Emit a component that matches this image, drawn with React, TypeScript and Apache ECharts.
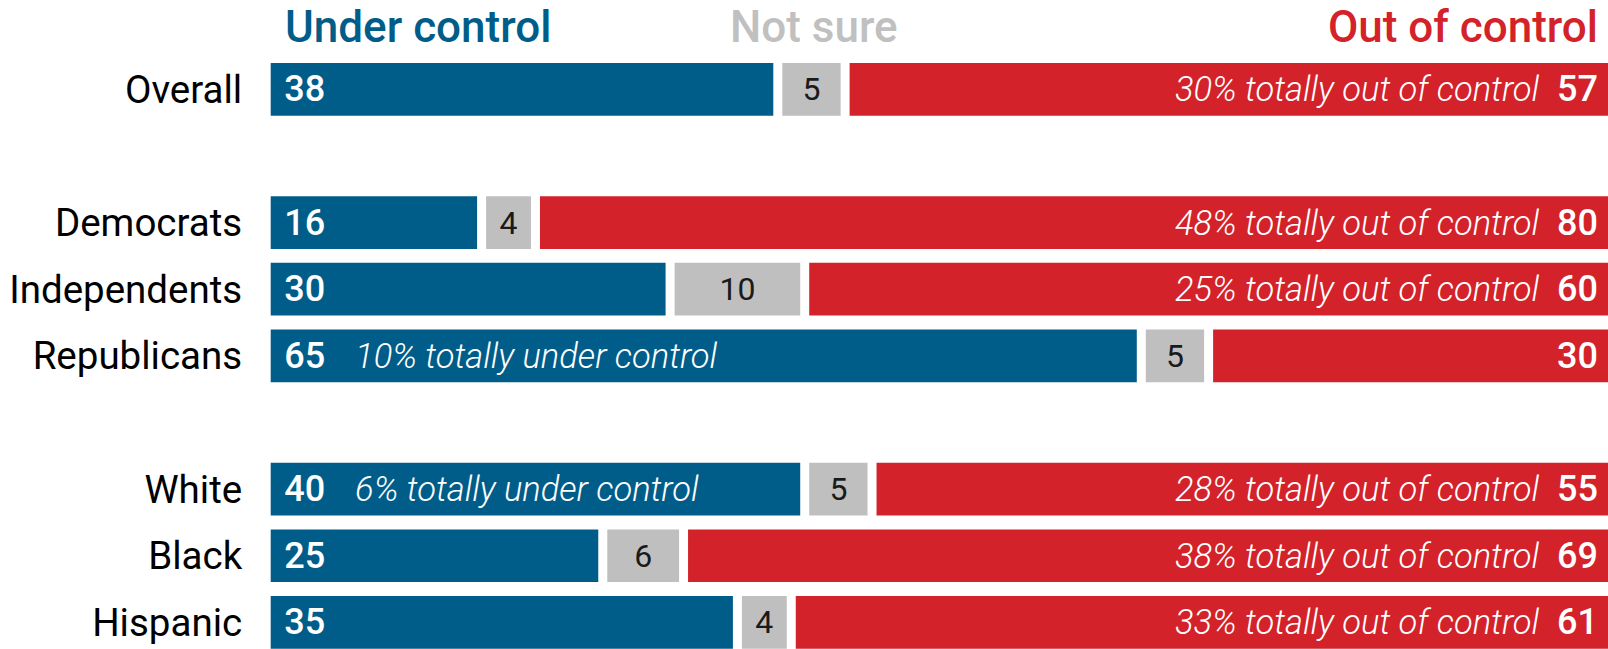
import React, { useEffect, useRef } from "react";
import * as echarts from "echarts";

const groups = ["Overall", "", "Democrats", "Independents", "Republicans", " ", "White", "Black", "Hispanic"];
const underControl = [38, null, 16, 30, 65, null, 40, 25, 35];
const notSure = [5, null, 4, 10, 5, null, 5, 6, 4];
const outOfControl = [57, null, 80, 60, 30, null, 55, 69, 61];
const totallyUnder = [null, null, null, null, 10, null, 6, null, null];
const totallyOut = [30, null, 48, 25, null, null, 28, 38, 33];
const headings = ["Under control", "Not sure", "Out of control"];

const BLUE = "#005d89";
const GRAY = "#bfbfbf";
const RED = "#d3222a";
const FONT = "Roboto, 'Liberation Sans', sans-serif";

export default function App() {
  const ref = useRef<HTMLDivElement>(null);
  useEffect(() => {
    if (!ref.current) return;
    const chart = echarts.init(ref.current, null, { renderer: "svg" });
    const barW = 61.7;
    const common = {
      type: "bar",
      stack: "all",
      barWidth: barW,
    };
    const border = { borderColor: "#fff", borderWidth: 4.5 };
    chart.setOption({
      animation: false,
      backgroundColor: "#ffffff",
      textStyle: { fontFamily: FONT },
      grid: { left: 266.2, top: 56, width: 1346.3, height: 599.7, outerBoundsMode: "none" },
      xAxis: { type: "value", min: 0, max: 100, show: false },
      yAxis: {
        type: "category",
        data: groups,
        inverse: true,
        axisLine: { show: false },
        axisTick: { show: false },
        splitLine: { show: false },
        axisLabel: { fontSize: 38.5, color: "#000", margin: 24, fontFamily: FONT, fontWeight: "normal" },
      },
      graphic: [
        {
          type: "text",
          left: 285,
          top: 5,
          style: { text: headings[0], fill: BLUE, font: `500 44px ${FONT}` },
        },
        {
          type: "text",
          left: 730,
          top: 5,
          style: { text: headings[1], fill: "#c0c0c0", font: `500 44px ${FONT}` },
        },
        {
          type: "text",
          right: 10,
          top: 5,
          style: { text: headings[2], fill: RED, font: `500 44px ${FONT}` },
        },
      ],
      series: [
        {
          ...common,
          name: "Under control",
          data: underControl,
          itemStyle: { color: BLUE, ...border },
          label: {
            show: true,
            position: "insideLeft",
            distance: 18,
            formatter: (p: any) => {
              const v = underControl[p.dataIndex];
              const n = totallyUnder[p.dataIndex];
              return n != null ? `{v|${v}}{n|${n}% totally under control}` : `{v|${v}}`;
            },
            rich: {
              v: { fontSize: 36, fontWeight: 500, color: "#fff", fontFamily: FONT },
              n: { fontSize: 34.5, fontStyle: "italic", fontWeight: 300, color: "#fff", padding: [0, 0, 0, 30], fontFamily: FONT },
            },
          },
        },
        {
          ...common,
          name: "Not sure",
          data: notSure,
          itemStyle: { color: GRAY, ...border },
          label: {
            show: true,
            position: "inside",
            fontSize: 32,
            color: "#1a1a1a",
            fontFamily: FONT,
          },
        },
        {
          ...common,
          name: "Out of control",
          data: outOfControl,
          itemStyle: { color: RED, ...border },
          label: {
            show: true,
            position: "insideRight",
            distance: 14.5,
            formatter: (p: any) => {
              const v = outOfControl[p.dataIndex];
              const n = totallyOut[p.dataIndex];
              return n != null ? `{n|${n}% totally out of control}{v|${v}}` : `{v|${v}}`;
            },
            rich: {
              v: { fontSize: 36, fontWeight: 500, color: "#fff", fontFamily: FONT },
              n: { fontSize: 34.5, fontStyle: "italic", fontWeight: 300, color: "#fff", padding: [0, 18, 0, 0], fontFamily: FONT },
            },
          },
        },
      ],
    });
    return () => chart.dispose();
  }, []);
  return (
    <div
      ref={ref}
      style={{ position: "fixed", left: 0, top: 0, width: 1608, height: 649, background: "#fff" }}
    />
  );
}
